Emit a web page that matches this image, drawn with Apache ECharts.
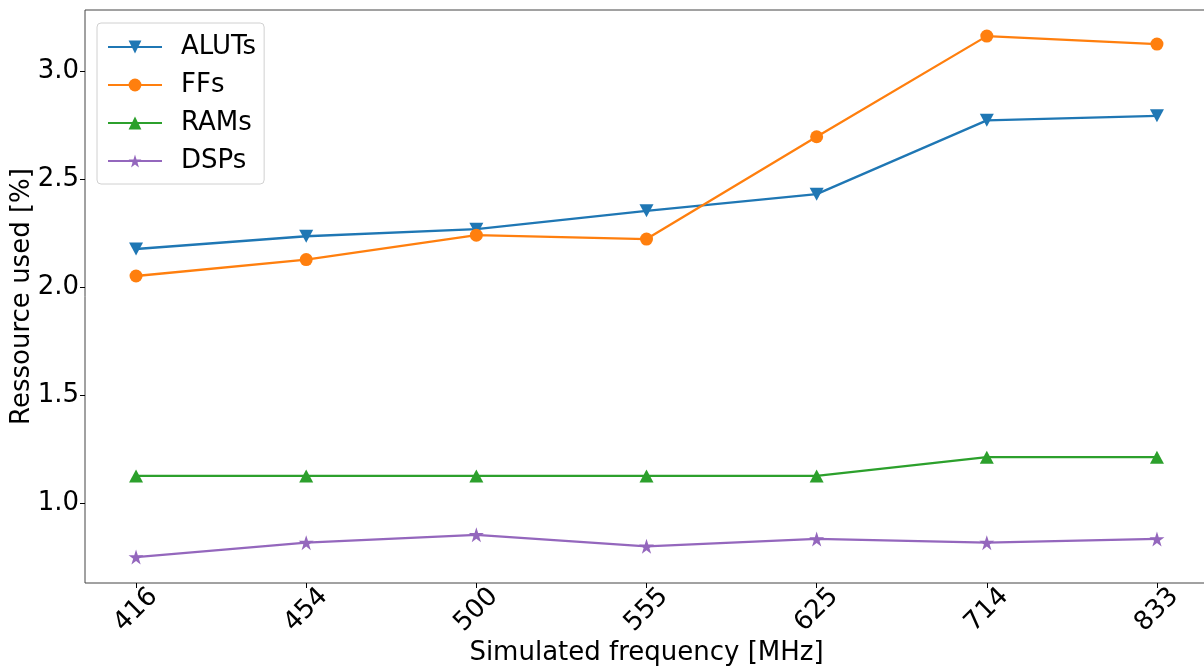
<!DOCTYPE html>
<html>
<head>
<meta charset="utf-8">
<script src="https://cdn.jsdelivr.net/npm/echarts@6/dist/echarts.min.js"></script>
<style>html,body{margin:0;padding:0;background:#fff;}#c{width:1204px;height:670px;}</style>
</head>
<body>
<div id="c"></div>
<script>
const categories = ['416', '454', '500', '555', '625', '714', '833'];
const aluts = [2.176, 2.235, 2.268, 2.353, 2.430, 2.772, 2.793];
const ffs   = [2.051, 2.127, 2.240, 2.222, 2.696, 3.162, 3.125];
const rams  = [1.125, 1.125, 1.125, 1.125, 1.125, 1.212, 1.212];
const dsps  = [0.749, 0.816, 0.852, 0.799, 0.833, 0.816, 0.833];
const yTicks = [1.0, 1.5, 2.0, 2.5, 3.0];

const FONT = 'DejaVu Sans';
const FS = 26;
const STAR = 'path://M0,-1 L0.2245,-0.309 L0.951,-0.309 L0.363,0.118 L0.588,0.809 L0,0.382 L-0.588,0.809 L-0.363,0.118 L-0.951,-0.309 L-0.2245,-0.309 Z';
const idx = categories.map((c, i) => i);
const toPts = arr => arr.map((v, i) => [i, v]);

function mk(name, data, color, symbol, size, rot) {
  return {
    name, type: 'line', data: toPts(data),
    symbol, symbolSize: size, symbolRotate: rot || 0,
    lineStyle: { color, width: 2.3 },
    itemStyle: { color },
    emphasis: { disabled: true },
    animation: false
  };
}

const chart = echarts.init(document.getElementById('c'), null, { renderer: 'canvas' });
chart.setOption({
  animation: false,
  grid: { left: 85, top: 10, right: -4, bottom: 87, outerBoundsMode: 'none', containLabel: false,
          show: true, borderColor: '#444', borderWidth: 1, backgroundColor: 'transparent' },
  legend: {
    left: 97, top: 23, orient: 'vertical',
    padding: [11, 8, 10, 10],
    itemWidth: 54, itemHeight: 16, itemGap: 12,
    borderColor: '#d0d0d0', borderWidth: 1, borderRadius: 4,
    backgroundColor: 'rgba(255,255,255,0.8)',
    textStyle: { fontFamily: FONT, fontSize: FS, color: '#000', padding: [0, 0, 0, 14] },
    data: ['ALUTs', 'FFs', 'RAMs', 'DSPs']
  },
  xAxis: {
    type: 'value', min: -0.3, max: 6.3,
    name: 'Simulated frequency [MHz]', nameLocation: 'middle', nameGap: 57, nameMoveOverlap: false,
    nameTextStyle: { fontFamily: FONT, fontSize: FS, color: '#000' },
    axisLine: { show: false, onZero: false },
    splitLine: { show: false },
    axisTick: { show: true, length: 5, lineStyle: { color: '#000' }, customValues: idx },
    axisLabel: {
      customValues: idx, rotate: 45, margin: 27, align: 'center', verticalAlign: 'middle',
      fontFamily: FONT, fontSize: FS, color: '#000',
      formatter: v => categories[Math.round(v)]
    }
  },
  yAxis: {
    type: 'value', min: 0.629, max: 3.283,
    name: 'Ressource used [%]', nameLocation: 'middle', nameGap: 50, nameMoveOverlap: false,
    nameTextStyle: { fontFamily: FONT, fontSize: FS, color: '#000' },
    axisLine: { show: false, onZero: false },
    splitLine: { show: false },
    axisTick: { show: true, length: 5, lineStyle: { color: '#000' }, customValues: yTicks },
    axisLabel: {
      customValues: yTicks, margin: 6,
      fontFamily: FONT, fontSize: FS, color: '#000',
      formatter: v => v.toFixed(1)
    }
  },
  series: [
    mk('ALUTs', aluts, '#1f77b4', 'triangle', [14, 13], 180),
    mk('FFs', ffs, '#ff7f0e', 'circle', 13),
    mk('RAMs', rams, '#2ca02c', 'triangle', [14, 13]),
    mk('DSPs', dsps, '#9467bd', STAR, 15)
  ]
});
</script>
</body>
</html>
